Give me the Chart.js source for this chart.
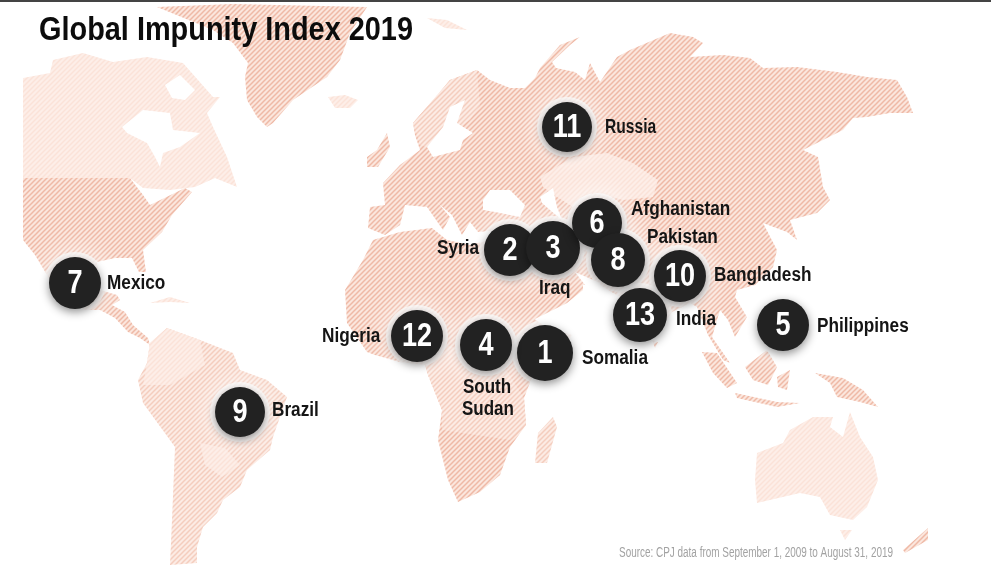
<!DOCTYPE html>
<html>
<head>
<meta charset="utf-8">
<title>Global Impunity Index 2019</title>
<script src="https://cdn.jsdelivr.net/npm/chart.js@4"></script>
<style>
  html, body { margin: 0; padding: 0; background: #fff; overflow: hidden; }
  #topline { position: fixed; top: 0; left: 0; right: 0; height: 2px; background: #444; }
  canvas { display: block; }
</style>
</head>
<body>
<canvas id="chart" width="991" height="566"></canvas>
<div id="topline"></div>
<script>
// texts
const chartTitle = "Global Impunity Index 2019";
const sourceNote = "Source: CPJ data from September 1, 2009 to August 31, 2019";

// ranks, one per country
const countries = ["Somalia", "Syria", "Iraq", "South Sudan", "Philippines", "Afghanistan", "Mexico", "Pakistan", "Brazil", "Bangladesh", "Russia", "Nigeria", "India"];
const ranks = [1, 2, 3, 4, 5, 6, 7, 8, 9, 10, 11, 12, 13];
// where each rank sits on the map and how big the blob is
const rankX = [545, 510, 553, 486, 783, 597, 75, 618, 240, 680, 567, 417, 640];
const rankY = [353, 250, 248, 345, 325, 223, 283, 260, 412, 276, 127, 336, 315];
const rankR = [28, 26, 27, 26, 26, 25, 26, 27, 25, 26, 25, 26, 27];

// land outlines, in map units
const canada = [[23,78],[50,73],[53,60],[83,53],[113,62],[147,57],[183,63],[213,97],[220,97],[207,113],[213,127],[227,157],[237,187],[215,178],[195,187],[170,190],[143,188],[130,178],[23,178]];
const usaMexico = [[23,178],[130,178],[143,195],[150,205],[185,188],[192,192],[172,215],[162,232],[143,250],[146,272],[139,272],[132,258],[115,258],[97,262],[100,290],[117,295],[120,300],[112,305],[125,312],[133,325],[148,338],[150,345],[140,338],[128,332],[115,318],[100,310],[85,310],[70,300],[50,280],[35,255],[23,240]];
const cuba = [[150,303],[170,297],[190,303],[170,302]];
const greenland = [[157,7],[233,4],[367,7],[350,33],[340,60],[327,77],[293,100],[273,123],[267,127],[257,117],[247,100],[245,77],[248,63],[233,43],[213,30]];
const iceland = [[328,97],[345,95],[358,100],[350,108],[335,108]];
const svalbard = [[427,18],[447,20],[467,30],[445,28]];
const britain = [[367,157],[377,150],[387,133],[390,147],[378,167],[367,167]];
const eurasia = [[370,207],[385,205],[383,183],[400,165],[420,150],[415,135],[413,123],[433,100],[450,80],[477,70],[490,80],[510,88],[525,88],[535,78],[540,68],[560,45],[580,37],[570,45],[552,62],[556,68],[575,72],[585,80],[590,63],[600,82],[617,57],[630,50],[670,33],[693,37],[703,43],[690,57],[723,55],[750,58],[763,68],[797,67],[837,72],[867,77],[897,80],[907,97],[913,113],[890,113],[867,117],[853,118],[843,130],[803,150],[818,157],[823,187],[830,200],[817,213],[790,220],[797,240],[787,232],[763,223],[777,250],[773,267],[755,285],[737,290],[735,297],[747,317],[735,337],[728,320],[720,310],[712,337],[730,363],[723,360],[708,335],[697,307],[690,303],[672,312],[655,338],[650,335],[625,300],[600,285],[583,285],[583,290],[567,303],[533,320],[517,290],[508,240],[500,230],[478,232],[470,222],[462,235],[452,215],[440,205],[433,197],[450,217],[443,230],[427,207],[405,205],[400,225],[385,235],[368,228]];
const africa = [[345,290],[363,260],[373,240],[400,232],[432,228],[447,240],[470,245],[490,240],[512,240],[520,275],[533,318],[548,328],[572,335],[555,365],[533,375],[524,398],[526,425],[510,447],[500,475],[480,492],[458,502],[448,480],[438,440],[442,410],[428,375],[425,365],[400,362],[375,355],[367,352],[347,323]];
const southAmerica = [[150,343],[167,328],[200,340],[233,353],[240,370],[267,380],[287,397],[273,437],[270,450],[247,470],[240,487],[223,500],[217,513],[203,527],[197,547],[197,563],[170,565],[172,520],[175,447],[143,403],[138,380],[147,363]];
const australia = [[757,453],[783,443],[790,430],[813,417],[833,417],[830,427],[843,437],[850,412],[860,437],[873,457],[878,480],[867,507],[853,520],[830,515],[820,497],[800,493],[757,503],[755,480]];
const tasmania = [[840,530],[852,530],[845,540]];
const newZealand = [[903,550],[928,528],[928,540],[905,553]];
const madagascar = [[553,417],[557,427],[547,463],[535,463],[538,433]];
const sumatra = [[702,352],[717,353],[737,383],[727,388],[713,373]];
const borneo = [[745,367],[767,350],[777,367],[768,385],[753,380]];
const java = [[735,393],[777,402],[800,403],[777,407],[737,398]];
const sulawesi = [[777,377],[790,370],[787,390],[778,387]];
const newGuinea = [[815,373],[843,378],[863,390],[878,407],[860,402],[837,397],[830,383]];
const sriLanka = [[652,340],[658,342],[655,348]];

// paler countries over the land
const kazakhstan = [[540,177],[573,157],[607,153],[633,163],[658,180],[653,197],[623,200],[593,193],[573,207],[557,197],[543,187]];
const scandinavia = [[413,123],[433,100],[450,80],[477,70],[480,105],[470,120],[455,130],[445,135],[435,150],[420,145]];
const congo = [[428,375],[425,365],[445,345],[500,360],[524,398],[526,425],[510,440],[442,430],[442,410]];
const bolivia = [[200,443],[225,448],[240,465],[222,477],[205,465]];
const amazonNorth = [[150,343],[167,328],[200,340],[205,365],[170,385],[143,385],[147,363]];

// water cut out of the land
const hudsonBay = [[122,127],[143,110],[170,113],[173,130],[200,133],[180,147],[163,153],[160,167],[155,157],[147,143],[127,133]];
const arcticGap = [[165,85],[180,75],[195,90],[185,100],[172,98]];
const baltic = [[427,147],[443,127],[450,107],[465,100],[457,123],[473,133],[463,140],[460,150],[433,157]];
const blackSea = [[483,200],[490,190],[510,190],[525,205],[520,217],[495,212],[483,210]];
const caspian = [[540,197],[553,188],[557,207],[562,220],[550,210],[542,203]];
const persianGulf = [[575,272],[600,283],[602,290],[585,285]];

// diagonal hatch like the original print texture
function hatch(base, stripe) {
  const tile = document.createElement("canvas");
  tile.width = tile.height = 5;
  const t = tile.getContext("2d");
  t.fillStyle = base;
  t.fillRect(0, 0, 5, 5);
  t.strokeStyle = stripe;
  t.lineWidth = 1.5;
  t.beginPath();
  t.moveTo(-2.5, 2.5); t.lineTo(2.5, -2.5);
  t.moveTo(0, 5); t.lineTo(5, 0);
  t.moveTo(2.5, 7.5); t.lineTo(7.5, 2.5);
  t.stroke();
  return t.createPattern(tile, "repeat");
}
const ctx = document.getElementById("chart").getContext("2d");
const darkHatch = hatch("#fbe6dd", "#efb9a6");
const midHatch = hatch("#fcebe4", "#f4cdbe");
const paleHatch = hatch("#fdeee8", "#fbe2d8");

function shape(points, fillStyle, order) {
  return {
    type: "scatter",
    data: points.map((p) => ({ x: p[0], y: p[1] })),
    showLine: true,
    fill: "shape",
    backgroundColor: fillStyle,
    borderWidth: 0,
    borderColor: "transparent",
    pointRadius: 0,
    order: order,
  };
}

const rankPoints = ranks.map((rank, i) => ({ x: rankX[i], y: rankY[i], r: rankR[i] }));
const haloPoints = rankPoints.map((p) => ({ x: p.x, y: p.y, r: p.r + 5 }));

const datasets = [
  { type: "bubble", data: rankPoints, backgroundColor: "#222222", borderWidth: 0, order: 1, glow: "dark" },
  { type: "bubble", data: haloPoints, backgroundColor: "rgba(255,255,255,0.75)", borderWidth: 0, order: 2, glow: "white" },
  shape(hudsonBay, "#ffffff", 3),
  shape(arcticGap, "#ffffff", 3),
  shape(baltic, "#ffffff", 3),
  shape(blackSea, "#ffffff", 3),
  shape(caspian, "#ffffff", 3),
  shape(persianGulf, "#ffffff", 3),
  shape(kazakhstan, paleHatch, 5),
  shape(scandinavia, midHatch, 5),
  shape(congo, midHatch, 5),
  shape(bolivia, paleHatch, 5),
  shape(amazonNorth, paleHatch, 5),
];
[usaMexico, greenland, britain, eurasia, africa, newZealand, sumatra, borneo, java, sulawesi, newGuinea, sriLanka].forEach((land) => datasets.push(shape(land, darkHatch, 10)));
[southAmerica, madagascar].forEach((land) => datasets.push(shape(land, midHatch, 10)));
[canada, cuba, iceland, svalbard, australia, tasmania].forEach((land) => datasets.push(shape(land, paleHatch, 10)));

// glow and shadow around the rank blobs
const glowPlugin = {
  id: "glow",
  beforeDatasetDraw(chart, args) {
    const kind = chart.data.datasets[args.index].glow;
    if (!kind) return;
    const c = chart.ctx;
    c.save();
    if (kind === "white") {
      c.shadowColor = "rgba(255,255,255,0.95)";
      c.shadowBlur = 24;
    } else {
      c.shadowColor = "rgba(0,0,0,0.45)";
      c.shadowBlur = 10;
      c.shadowOffsetY = 3;
    }
  },
  afterDatasetDraw(chart, args) {
    if (chart.data.datasets[args.index].glow) chart.ctx.restore();
  },
};

// country name anchors: left edge x and middle y, two lines for South Sudan
const labelX = [582, 437, 539, 462, 817, 631, 107, 647, 272, 714, 605, 322, 676];
const labelY = [358, 248, 288, 387, 326, 209, 283, 237, 410, 275, 127, 336, 319];

const FONT = '"Liberation Sans", sans-serif';
// the original face is condensed, so squeeze each string sideways
function narrowText(c, text, x, y, squeeze) {
  c.fillText(text, x, y, c.measureText(text).width * squeeze);
}
const textPlugin = {
  id: "mapText",
  afterDatasetsDraw(chart) {
    const c = chart.ctx;
    const sx = chart.scales.x, sy = chart.scales.y;
    c.save();
    c.textBaseline = "middle";
    c.textAlign = "center";
    c.fillStyle = "#ffffff";
    c.font = "bold 33px " + FONT;
    ranks.forEach((rank, i) => {
      narrowText(c, String(rank), sx.getPixelForValue(rankX[i]), sy.getPixelForValue(rankY[i]) + 1, 0.82);
    });
    c.textAlign = "left";
    c.fillStyle = "#151515";
    c.font = "bold 20px " + FONT;
    countries.forEach((name, i) => {
      if (name === "South Sudan") {
        narrowText(c, "South", labelX[i] + 1, labelY[i], 0.85);
        narrowText(c, "Sudan", labelX[i], labelY[i] + 22, 0.85);
      } else {
        narrowText(c, name, labelX[i], labelY[i], name === "Russia" ? 0.78 : 0.86);
      }
    });
    c.fillStyle = "#0c0c0c";
    c.font = "bold 34px " + FONT;
    c.fillText(chartTitle, 39, 31, 374);
    c.fillStyle = "#a2a2a2";
    c.font = "14px " + FONT;
    c.fillText(sourceNote, 619, 553, 274);
    c.restore();
  },
};

new Chart(ctx, {
  type: "scatter",
  data: { datasets: datasets },
  options: {
    responsive: false,
    animation: false,
    events: [],
    layout: { padding: 0, autoPadding: false },
    plugins: { legend: { display: false }, tooltip: { enabled: false } },
    scales: {
      x: { type: "linear", display: false, min: 0, max: 991 },
      y: { type: "linear", display: false, min: 0, max: 566, reverse: true },
    },
  },
  plugins: [glowPlugin, textPlugin],
});
</script>
</body>
</html>
